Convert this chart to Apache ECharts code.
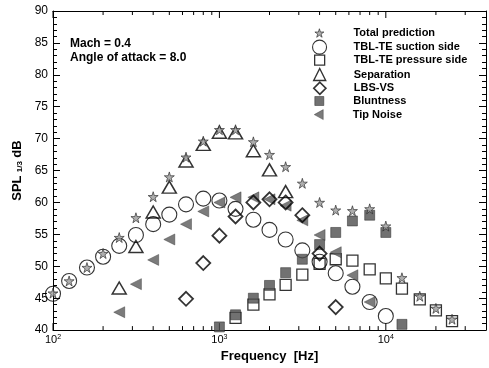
<!DOCTYPE html>
<html>
<head>
<meta charset="utf-8">
<script src="https://cdn.jsdelivr.net/npm/echarts@6/dist/echarts.min.js"></script>
<style>
    html, body {margin: 0; padding: 0; background: #fff;}
    #chart {width: 489px; height: 368px;}
</style>
</head>
<body>
<div id="chart"></div>
<script>
// 1/3 octave band centres [Hz]
const totalFreq = [100, 125, 160, 200, 250, 315, 400, 500, 630, 800, 1000, 1250, 1600, 2000, 2500, 3150, 4000, 5000, 6300, 8000, 10000, 12500, 16000, 20000, 25000];
const totalSpl = [45.8, 47.7, 49.8, 52.0, 54.5, 57.6, 60.9, 64.0, 67.1, 69.6, 71.4, 71.4, 69.5, 67.5, 65.6, 63.0, 60.0, 58.8, 58.7, 59.0, 56.3, 48.2, 45.3, 43.4, 41.7];

const suctionFreq = [100, 125, 160, 200, 250, 315, 400, 500, 630, 800, 1000, 1250, 1600, 2000, 2500, 3150, 4000, 5000, 6300, 8000, 10000];
const suctionSpl = [45.7, 47.7, 49.8, 51.5, 53.2, 54.9, 56.6, 58.1, 59.7, 60.6, 60.3, 59.0, 57.3, 55.7, 54.2, 52.5, 50.7, 48.9, 46.8, 44.4, 42.2];

const pressureFreq = [1250, 1600, 2000, 2500, 3150, 4000, 5000, 6300, 8000, 10000, 12500, 16000, 20000, 25000];
const pressureSpl = [41.9, 44.0, 45.6, 47.1, 48.7, 50.4, 51.1, 50.9, 49.5, 48.1, 46.5, 44.8, 43.1, 41.4];

const separationFreq = [250, 315, 400, 500, 630, 800, 1000, 1250, 1600, 2000, 2500];
const separationSpl = [46.6, 53.1, 58.5, 62.4, 66.5, 69.1, 71.0, 70.9, 68.1, 65.1, 61.7];

const lbsFreq = [630, 800, 1000, 1250, 1600, 2000, 2500, 3150, 4000, 5000];
const lbsSpl = [44.9, 50.5, 54.8, 57.8, 60.0, 60.5, 60.0, 58.0, 52.0, 43.6];

const bluntFreq = [1000, 1250, 1600, 2000, 2500, 3150, 4000, 5000, 6300, 8000, 10000, 12500];
const bluntSpl = [40.5, 42.4, 45.0, 47.0, 49.0, 51.1, 53.4, 55.3, 57.1, 58.0, 55.3, 40.9];

const tipFreq = [250, 315, 400, 500, 630, 800, 1000, 1250, 1600, 2000, 2500, 3150, 4000, 5000, 6300, 8000];
const tipSpl = [42.8, 47.2, 51.0, 54.2, 56.6, 58.6, 60.0, 60.8, 60.8, 60.5, 59.5, 57.2, 54.9, 52.2, 48.6, 44.4];

// x axis tick positions (decades get a label)
const xTicks = [100, 200, 300, 400, 500, 600, 700, 800, 900,
    1000, 2000, 3000, 4000, 5000, 6000, 7000, 8000, 9000,
    10000, 20000, 30000];

const names = ['Total prediction', 'TBL-TE suction side', 'TBL-TE pressure side', 'Separation', 'LBS-VS', 'Bluntness', 'Tip Noise'];

const FONT = '"Liberation Sans", Arial, sans-serif';
const STAR = 'path://M50,0 L61,35 L98,35 L68,57 L79,91 L50,70 L21,91 L32,57 L2,35 L39,35 Z';
const LEFT_TRI = 'path://M0,50 L90,0 L90,100 Z';

function pairs(f, v) {
    return f.map(function (x, i) { return [x, v[i]]; });
}

const isDecade = function (v) {
    const l = Math.log10(v);
    return Math.abs(l - Math.round(l)) < 1e-6;
};

// legend: one component per row so each icon keeps its own size
const iconSizes = [9, 14, 10, 12, 12, 9, 10];
const iconBorders = [0.8, 1.1, 1.3, 1.4, 1.7, 0.6, 0.5];
const legends = names.map(function (n, i) {
    const s = iconSizes[i];
    const rowY = 33 + i * 13.6;
    return {
        data: [n],
        left: 319 - s / 2,
        top: rowY - Math.max(s, 12) / 2,
        padding: 0,
        itemWidth: s,
        itemHeight: s,
        itemStyle: {borderWidth: iconBorders[i]},
        selectedMode: false,
        formatter: '{p| }{n|' + n + '}',
        textStyle: {
            rich: {
                p: {width: 29 - s / 2},
                n: {fontFamily: FONT, fontSize: 11, fontWeight: 'bold', color: '#000'}
            }
        }
    };
});

const openStyle = {color: 'rgba(0,0,0,0)', borderColor: '#000'};

const chart = echarts.init(document.getElementById('chart'));
chart.setOption({
    animation: false,
    backgroundColor: '#fff',
    grid: {left: 53, right: 1, top: 11, bottom: 28},
    legend: legends,
    graphic: [
        {type: 'text', left: 70, top: 38, style: {text: 'Mach = 0.4', font: 'bold 12px ' + FONT, fill: '#000'}},
        {type: 'text', left: 70, top: 52, style: {text: 'Angle of attack = 8.0', font: 'bold 12px ' + FONT, fill: '#000'}}
    ],
    xAxis: [
        {
            type: 'log', logBase: 10, min: 100, max: 40000, position: 'bottom',
            splitLine: {show: false},
            axisLine: {lineStyle: {color: '#000', width: 1}},
            axisTick: {show: false},
            axisLabel: {
                margin: 3,
                showMinLabel: true,
                formatter: function (v) {
                    if (!isDecade(v) || v > 10000) return '';
                    return '{b|10}{s|' + Math.round(Math.log10(v)) + '}';
                },
                rich: {
                    b: {fontFamily: FONT, fontSize: 11, color: '#000'},
                    s: {fontFamily: FONT, fontSize: 7, color: '#000', verticalAlign: 'top', padding: [0, 0, 6, 0]}
                }
            },
            name: 'Frequency  [Hz]', nameLocation: 'middle', nameGap: 11,
            nameTextStyle: {fontFamily: FONT, fontSize: 13, fontWeight: 'bold', color: '#000'}
        },
        {
            type: 'log', logBase: 10, min: 100, max: 40000, position: 'top',
            splitLine: {show: false},
            axisLine: {lineStyle: {color: '#000', width: 1}},
            axisTick: {show: false},
            axisLabel: {show: false}
        }
    ],
    yAxis: [
        {
            type: 'value', min: 40, max: 90, interval: 5, position: 'left',
            splitLine: {show: false},
            axisLine: {show: true, lineStyle: {color: '#000', width: 1}},
            axisTick: {inside: true, length: 7, lineStyle: {color: '#000'}},
            minorTick: {show: true, splitNumber: 5, length: 4, lineStyle: {color: '#000'}},
            axisLabel: {fontFamily: FONT, fontSize: 12, color: '#000', margin: 5},
            name: '{a|SPL} {s|1/3} {a|dB}', nameLocation: 'middle', nameRotate: 90, nameGap: 28,
            nameTextStyle: {
                rich: {
                    a: {fontFamily: FONT, fontSize: 13, fontWeight: 'bold', color: '#000'},
                    s: {fontFamily: FONT, fontSize: 8, fontWeight: 'bold', color: '#000', verticalAlign: 'bottom', padding: [4, 0, 0, 0]}
                }
            }
        },
        {
            type: 'value', min: 40, max: 90, interval: 5, position: 'right',
            splitLine: {show: false},
            axisLine: {show: true, lineStyle: {color: '#000', width: 1}},
            axisTick: {inside: true, length: 7, lineStyle: {color: '#000'}},
            minorTick: {show: true, splitNumber: 5, length: 4, lineStyle: {color: '#000'}},
            axisLabel: {show: false}
        }
    ],
    series: [
        {
            type: 'custom', name: 'xticks', silent: true, clip: false, z: 1,
            data: xTicks,
            renderItem: function (params, api) {
                const f = api.value(0);
                const len = isDecade(f) ? 7 : 4;
                const b = api.coord([f, 40]);
                const t = api.coord([f, 90]);
                const st = {stroke: '#000', lineWidth: 1};
                return {
                    type: 'group',
                    children: [
                        {type: 'line', shape: {x1: b[0], y1: b[1], x2: b[0], y2: b[1] - len}, style: st},
                        {type: 'line', shape: {x1: t[0], y1: t[1], x2: t[0], y2: t[1] + len}, style: st}
                    ]
                };
            }
        },
        {
            name: names[1], type: 'scatter', symbol: 'circle', symbolSize: 15, z: 3,
            itemStyle: Object.assign({borderWidth: 1.1}, openStyle),
            data: pairs(suctionFreq, suctionSpl)
        },
        {
            name: names[2], type: 'scatter', symbol: 'rect', symbolSize: 11, z: 3,
            itemStyle: Object.assign({borderWidth: 1.3}, openStyle),
            data: pairs(pressureFreq, pressureSpl)
        },
        {
            name: names[5], type: 'scatter', symbol: 'rect', symbolSize: 10, z: 3,
            itemStyle: {color: '#4d4d4d', borderColor: '#222', borderWidth: 0.6},
            data: pairs(bluntFreq, bluntSpl)
        },
        {
            name: names[6], type: 'scatter', symbol: LEFT_TRI, symbolSize: 11, z: 3,
            itemStyle: {color: '#5a5a5a', borderColor: '#333', borderWidth: 0.5},
            data: pairs(tipFreq, tipSpl)
        },
        {
            name: names[3], type: 'scatter', symbol: 'triangle', symbolSize: [14, 12], z: 4,
            itemStyle: Object.assign({borderWidth: 1.5}, openStyle),
            data: pairs(separationFreq, separationSpl)
        },
        {
            name: names[4], type: 'scatter', symbol: 'diamond', symbolSize: 14, z: 4,
            itemStyle: Object.assign({borderWidth: 1.8}, openStyle),
            data: pairs(lbsFreq, lbsSpl)
        },
        {
            name: names[0], type: 'scatter', symbol: STAR, symbolSize: 10, z: 5,
            itemStyle: {color: '#9a9a9a', borderColor: '#222', borderWidth: 0.8},
            data: pairs(totalFreq, totalSpl)
        }
    ]
});
</script>
</body>
</html>
